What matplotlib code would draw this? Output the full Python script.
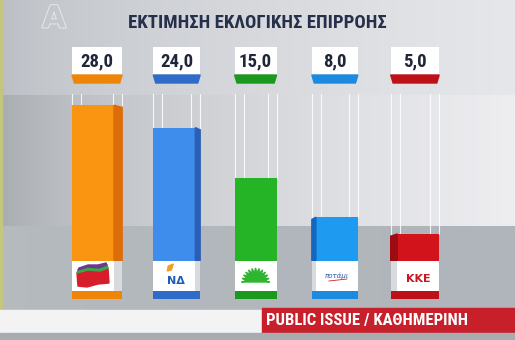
"""
	Εκτίμηση εκλογικής επιρροής - bar chart like the TV graphic.
"""

import numpy as np
import matplotlib
matplotlib.use("Agg")
import matplotlib.pyplot as plt
import matplotlib.patheffects as pe
from matplotlib import font_manager
from matplotlib.patches import Rectangle, Polygon

# data
parties = ["ΣΥΡΙΖΑ", "ΝΔ", "ΠΑΣΟΚ", "Το Ποτάμι", "ΚΚΕ"]
values = [28.0, 24.0, 15.0, 8.0, 5.0]
value_labels = ["28,0", "24,0", "15,0", "8,0", "5,0"]
title = "ΕΚΤΙΜΗΣΗ ΕΚΛΟΓΙΚΗΣ ΕΠΙΡΡΟΗΣ"
source = "PUBLIC ISSUE / ΚΑΘΗΜΕΡΙΝΗ"

front_colors = ["#f99510", "#3e8ded", "#25b425", "#1e9bf0", "#d3131b"]
side_colors = ["#dd6c0a", "#2a5fb5", "#1a8a1c", "#1466c0", "#9c0c12"]
strip_colors = ["#ee8508", "#2f6bc8", "#1c981e", "#1c8ade", "#bd1018"]
side_w = [0.10, 0.06, 0.0, -0.05, -0.08]

names = {f.name for f in font_manager.fontManager.ttflist}


def pick(*cands):
	for n in cands:
		if n in names:
			return n
	return "DejaVu Sans"


narrow = pick("Liberation Sans Narrow", "DejaVu Sans Condensed", "Roboto Condensed", "Roboto")

W, H = 515, 340
PXU = 5.6  # pixels per percentage point
BASE = 262  # image row of the zero line


def py(row):
	# image row -> bar-axis units
	return (BASE - row) / PXU


fig = plt.figure(figsize=(W / 100, H / 100), dpi=100)
bg = fig.add_axes([0, 0, 1, 1])
bg.set_xlim(0, W)
bg.set_ylim(H, 0)
bg.axis("off")

# background: darker on the left, lighter on the right, three bands
xs = np.linspace(0, 1, W)
img = np.zeros((H, W, 3))
bands = [
	(0, 95, "#b9bdc3", "#e6e7ea"),
	(95, 226, "#a5aaaf", "#eeeef1"),
	(226, H, "#b6bbc0", "#b0b5bb"),
]
for y0, y1, cl, cr in bands:
	a = np.array(matplotlib.colors.to_rgb(cl))
	b = np.array(matplotlib.colors.to_rgb(cr))
	t = xs ** 0.6
	row = a[None, :] * (1 - t[:, None]) + b[None, :] * t[:, None]
	img[y0:y1] = row[None, :, :]
bg.imshow(img, extent=[0, W, H, 0], aspect="auto", zorder=0)
bg.add_patch(Rectangle((0, 0), 2, H, color="#c3c67c", zorder=1))

# channel logo
bg.text(54, 19, "A", fontsize=22, fontweight="bold", color="#c4c7cc",
		ha="center", va="center", family="DejaVu Sans", zorder=2,
		path_effects=[pe.withStroke(linewidth=1.5, foreground="#e4e6e9")])

bg.text(257, 23, title, fontsize=13.5, fontweight="bold", color="#27304a",
		ha="center", va="center", family=narrow, zorder=2)

# source banner
bg.add_patch(Rectangle((0, 310), 262, 23, color="#f3f3f4", zorder=2))
bg.add_patch(Rectangle((262, 308), W - 262, 25, color="#c8202a", zorder=2))
bg.add_patch(Rectangle((0, 333), W, H - 333, color="#a7acb1", zorder=2))
bg.text(266, 321, source, fontsize=12, fontweight="bold", color="white",
		ha="left", va="center", family=narrow, zorder=3)

# bars
step = 81.3
ax = fig.add_axes([(93 - step / 2) / W, (H - BASE) / H, 5 * step / W, 30 * PXU / H])
ax.set_xlim(-0.5, 4.5)
ax.set_ylim(0, 30)
ax.axis("off")
ax.patch.set_alpha(0)

bw = 42 / step
xpos = np.arange(len(values))
ax.bar(xpos, values, width=bw, color=front_colors, zorder=3)

tube_top = py(84)
for i, v in enumerate(values):
	L, R = i - bw / 2, i + bw / 2
	s = side_w[i]
	if s > 0:
		ax.add_patch(Polygon([(R, 0), (R + s, 0.3), (R + s, v - 0.4), (R, v)],
							 color=side_colors[i], zorder=3))
	elif s < 0:
		ax.add_patch(Polygon([(L, 0), (L + s, 0.3), (L + s, v - 0.4), (L, v)],
							 color=side_colors[i], zorder=3))
	bl, br = min(L, L + s), max(R, R + s)
	inner = 9 / step
	for x in [bl, bl + inner, br - inner, br]:
		ax.plot([x, x], [v, tube_top], color="white", lw=0.8, alpha=0.85, zorder=2)

	# value box
	ax.add_patch(Rectangle((bl, py(75)), br - bl, py(47) - py(75), facecolor="white",
						   edgecolor="none", zorder=4, clip_on=False))
	ax.add_patch(Polygon([(bl, py(75)), (br, py(75)), (br - 0.03, py(83)), (bl + 0.03, py(83))],
						 color=strip_colors[i], zorder=4, clip_on=False))
	ax.text((bl + br) / 2, py(61), value_labels[i], fontsize=13.5, fontweight="bold",
			color="#1f2638", ha="center", va="center", family=narrow, zorder=5, clip_on=False)

	# logo box
	ax.add_patch(Rectangle((L, py(291)), R - L, py(261) - py(291), facecolor="white",
						   edgecolor="none", zorder=4, clip_on=False))
	if s != 0:
		sx = R if s > 0 else L + s
		ax.add_patch(Rectangle((sx, py(291)), abs(s), py(261) - py(291), facecolor="#d9dadd",
							   edgecolor="none", zorder=4, clip_on=False))
	ax.add_patch(Rectangle((bl, py(299)), br - bl, py(291) - py(299), facecolor=strip_colors[i],
						   edgecolor="none", zorder=4, clip_on=False))


def pt(i, dx, dy):
	# offset in pixels from the logo centre -> bar-axis units
	return (i + dx / step, py(276 + dy))


# party logos (rough)
ax.add_patch(Polygon([pt(0, *p) for p in [(-16, -3), (-5, -6), (7, -5), (15, -8), (16, 7),
										  (5, 8), (-6, 11), (-15, 10)]],
					 color="#d81d2a", zorder=6, clip_on=False))
ax.add_patch(Polygon([pt(0, *p) for p in [(-16, -3), (-5, -6), (7, -5), (15, -8), (14, -11),
										  (6, -8), (-5, -9), (-15, -6)]],
					 color="#3aa844", zorder=6, clip_on=False))
ax.add_patch(Polygon([pt(0, *p) for p in [(-15, -6), (-5, -9), (6, -8), (14, -11), (13, -13),
										  (5, -11), (-5, -11), (-14, -8)]],
					 color="#6b3a8f", zorder=6, clip_on=False))

ax.add_patch(Polygon([pt(1, *p) for p in [(-6, -10), (-1, -12), (-3, -6), (-7, -5)]],
					 color="#f0a020", zorder=6, clip_on=False))
ax.text(*pt(1, 2, 5), "ΝΔ", fontsize=8, fontweight="bold", color="#1d5fb8",
		ha="center", va="center", zorder=6, clip_on=False)

ang = np.linspace(0, np.pi, 25)
rad = np.where(np.arange(25) % 2 == 0, 14, 9)
sun = [pt(2, r * np.cos(a), 6 - r * np.sin(a)) for r, a in zip(rad, ang)]
ax.add_patch(Polygon(sun, color="#2fb52f", zorder=6, clip_on=False))

ax.text(*pt(3, 0, 0), "ποτάμι", fontsize=5, style="italic", color="#2a58a8",
		ha="center", va="center", zorder=6, clip_on=False)
ax.plot(*zip(pt(3, -8, 5), pt(3, 10, 3)), color="#d02030", lw=0.6, zorder=6, clip_on=False)

ax.text(*pt(4, 0, 3), "ΚΚΕ", fontsize=8, fontweight="bold", color="#c81820",
		ha="center", va="center", zorder=6, clip_on=False)

fig.savefig("out.png", dpi=100)
plt.close(fig)
